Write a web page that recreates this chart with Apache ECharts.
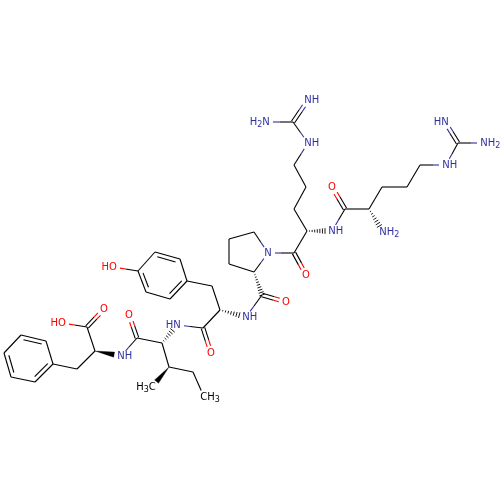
<!DOCTYPE html>
<html><head><meta charset="utf-8">
<script src="https://cdn.jsdelivr.net/npm/echarts@6/dist/echarts.min.js"></script>
<style>html,body{margin:0;padding:0;background:#fff}#c{width:500px;height:500px}</style>
</head><body><div id="c"></div>
<script>
// Atom positions (index = atom id)
const atomX = [445,458,484,446,420,407,382,369,383,345,332,332,307,294,306,294,308,293,266,308,294,268,306,254,229,229,254,262,286,246,220,212,187,170,146,138,155,180,113,203,211,177,162,137,129,169,152,193,204,121,95,87,104,62,77,53,35,11,4,21,46];
const atomY = [122,143,143,165,165,187,187,209,232,209,187,231,231,209,187,165,143,122,122,100,253,253,275,232,239,264,272,295,302,317,310,286,281,299,292,271,252,259,267,328,353,325,343,338,315,367,387,372,397,356,351,327,309,323,369,364,382,377,353,335,341];
const atomLabel = {0:'HN',2:'NH2',3:'NH',8:'NH2',10:'O',11:'NH',16:'NH',18:'H2N',19:'NH',21:'N',22:'O',28:'O',29:'NH',38:'HO',40:'O',41:'HN',44:'O',46:'H3C',48:'CH3',49:'NH',52:'O',53:'HO'};
// Bonds
const bondFrom = [0,1,1,3,4,5,6,7,7,9,9,12,12,13,14,15,16,17,17,20,20,20,21,23,24,25,26,26,27,27,30,30,31,32,33,34,35,36,37,35,30,39,39,42,42,43,43,42,45,45,47,50,50,51,51,50,54,55,56,57,58,59,60];
const bondTo   = [1,2,3,4,5,6,7,8,9,10,11,11,13,14,15,16,17,18,19,12,22,21,23,24,25,26,21,27,28,29,29,31,32,33,34,35,36,37,32,38,39,40,41,41,43,44,49,45,46,47,48,49,51,52,53,54,55,56,57,58,59,60,55];
const bondKind = ['double','single','single','single','single','single','single','hash','single','double','single','hash','single','single','single','single','single','single','double','single','double','single','single','single','single','single','single','hash','double','single','hash','single','single','ringA','single','ringA','single','ringA','single','single','single','double','single','hash','single','double','single','single','wedge','single','single','wedge','single','double','single','single','single','ringB','single','ringB','single','ringB','single'];

const INK='#000000', NITROGEN='#2f2f9e', OXYGEN='#ff0000';
const colorOf = i => { const l = atomLabel[i]; if(!l) return INK; if(l.includes('N')) return NITROGEN; if(l.includes('O')) return OXYGEN; return INK; };
const centre = (a,b) => { let x=0,y=0; for(let i=a;i<=b;i++){x+=atomX[i];y+=atomY[i];} const n=b-a+1; return [x/n,y/n]; };
const ringCentre = {ringA:centre(32,37), ringB:centre(55,60)};
const GAP = 7;

function segs(p,q,ci,cj,trimI,trimJ,w){
  const dx=q[0]-p[0],dy=q[1]-p[1],L=Math.hypot(dx,dy),ux=dx/L,uy=dy/L;
  const a=[p[0]+ux*trimI,p[1]+uy*trimI], b=[q[0]-ux*trimJ,q[1]-uy*trimJ], m=[(p[0]+q[0])/2,(p[1]+q[1])/2];
  const line=(s,e,c)=>({type:'line',shape:{x1:s[0],y1:s[1],x2:e[0],y2:e[1]},style:{stroke:c,lineWidth:w,lineCap:'butt',fill:null}});
  return ci===cj ? [line(a,b,ci)] : [line(a,m,ci),line(m,b,cj)];
}

function renderBond(params,api){
  const k=params.dataIndex, kind=bondKind[k], i=bondFrom[k], j=bondTo[k];
  const p=api.coord([api.value(0),api.value(1)]), q=api.coord([api.value(2),api.value(3)]);
  const ci=colorOf(i), cj=colorOf(j), ti=atomLabel[i]?GAP:0, tj=atomLabel[j]?GAP:0;
  const dx=q[0]-p[0],dy=q[1]-p[1],L=Math.hypot(dx,dy),ux=dx/L,uy=dy/L,nx=-uy,ny=ux;
  let children=[];
  const W=1.1;
  if(kind==='single') children=segs(p,q,ci,cj,ti,tj,W);
  else if(kind==='double'){
    const o=1.8;
    children=segs([p[0]+nx*o,p[1]+ny*o],[q[0]+nx*o,q[1]+ny*o],ci,cj,ti,tj,W)
      .concat(segs([p[0]-nx*o,p[1]-ny*o],[q[0]-nx*o,q[1]-ny*o],ci,cj,ti,tj,W));
  } else if(kind==='ringA'||kind==='ringB'){
    const c=api.coord(ringCentre[kind]);
    const s=((c[0]-p[0])*nx+(c[1]-p[1])*ny)>0?1:-1, o=4*s;
    children=segs(p,q,ci,cj,0,0,W).concat(segs(
      [p[0]+nx*o,p[1]+ny*o],[q[0]+nx*o,q[1]+ny*o],ci,cj,3.5,3.5,W));
  } else if(kind==='wedge'){
    const e=[q[0]-ux*tj,q[1]-uy*tj], h=2.6;
    children=[{type:'polygon',shape:{points:[p,[e[0]+nx*h,e[1]+ny*h],[e[0]-nx*h,e[1]-ny*h]]},style:{fill:INK,stroke:INK,lineWidth:0.3}}];
  } else if(kind==='hash'){
    const len=L-tj, n=Math.round(len/2.7);
    for(let t=1;t<=n;t++){
      const d=len*t/n, h=0.3+2.6*t/n, cx=p[0]+ux*d, cy=p[1]+uy*d;
      children.push({type:'line',shape:{x1:cx+nx*h,y1:cy+ny*h,x2:cx-nx*h,y2:cy-ny*h},style:{stroke:INK,lineWidth:0.9,fill:null}});
    }
  }
  return {type:'group',children};
}

const rich = c => ({ m:{fontFamily:'DejaVu Sans',fontSize:10,fill:c,color:c,lineHeight:14},
                     s:{fontFamily:'DejaVu Sans',fontSize:8,fill:c,color:c,lineHeight:14,padding:[5,0,0,0]} });
const fmt = l => l.replace(/^([A-Z]+)(\d)([A-Z]*)$/,(m,a,d,b)=>`{m|${a}}{s|${d}}`+(b?`{m|${b}}`:'')).replace(/^([A-Z]+)$/,'{m|$1}');
const labelIds = Object.keys(atomLabel).map(Number);

function renderLabel(params,api){
  const id=labelIds[params.dataIndex], l=atomLabel[id], c=colorOf(id);
  const p=api.coord([api.value(0),api.value(1)]);
  const rightAnchored = /^H/.test(l), single=l.length===1;
  const x = single ? p[0] : rightAnchored ? p[0]+3.8 : p[0]-3.8;
  return {type:'text',style:{text:fmt(l),x:x,y:p[1],align:single?'center':rightAnchored?'right':'left',verticalAlign:'middle',rich:rich(c)}};
}

const chart=echarts.init(document.getElementById('c'),null,{renderer:'canvas'});
chart.setOption({
  animation:false,
  backgroundColor:'#fff',
  grid:{left:0,right:0,top:0,bottom:0},
  xAxis:{type:'value',min:0,max:500,show:false},
  yAxis:{type:'value',min:0,max:500,inverse:true,show:false},
  series:[
    {type:'custom',coordinateSystem:'cartesian2d',clip:false,renderItem:renderBond,
     encode:{x:[0,2],y:[1,3]},
     data:bondFrom.map((a,k)=>[atomX[a],atomY[a],atomX[bondTo[k]],atomY[bondTo[k]]])},
    {type:'custom',coordinateSystem:'cartesian2d',clip:false,renderItem:renderLabel,
     encode:{x:0,y:1},
     data:labelIds.map(i=>[atomX[i],atomY[i]])}
  ]
});
</script></body></html>
